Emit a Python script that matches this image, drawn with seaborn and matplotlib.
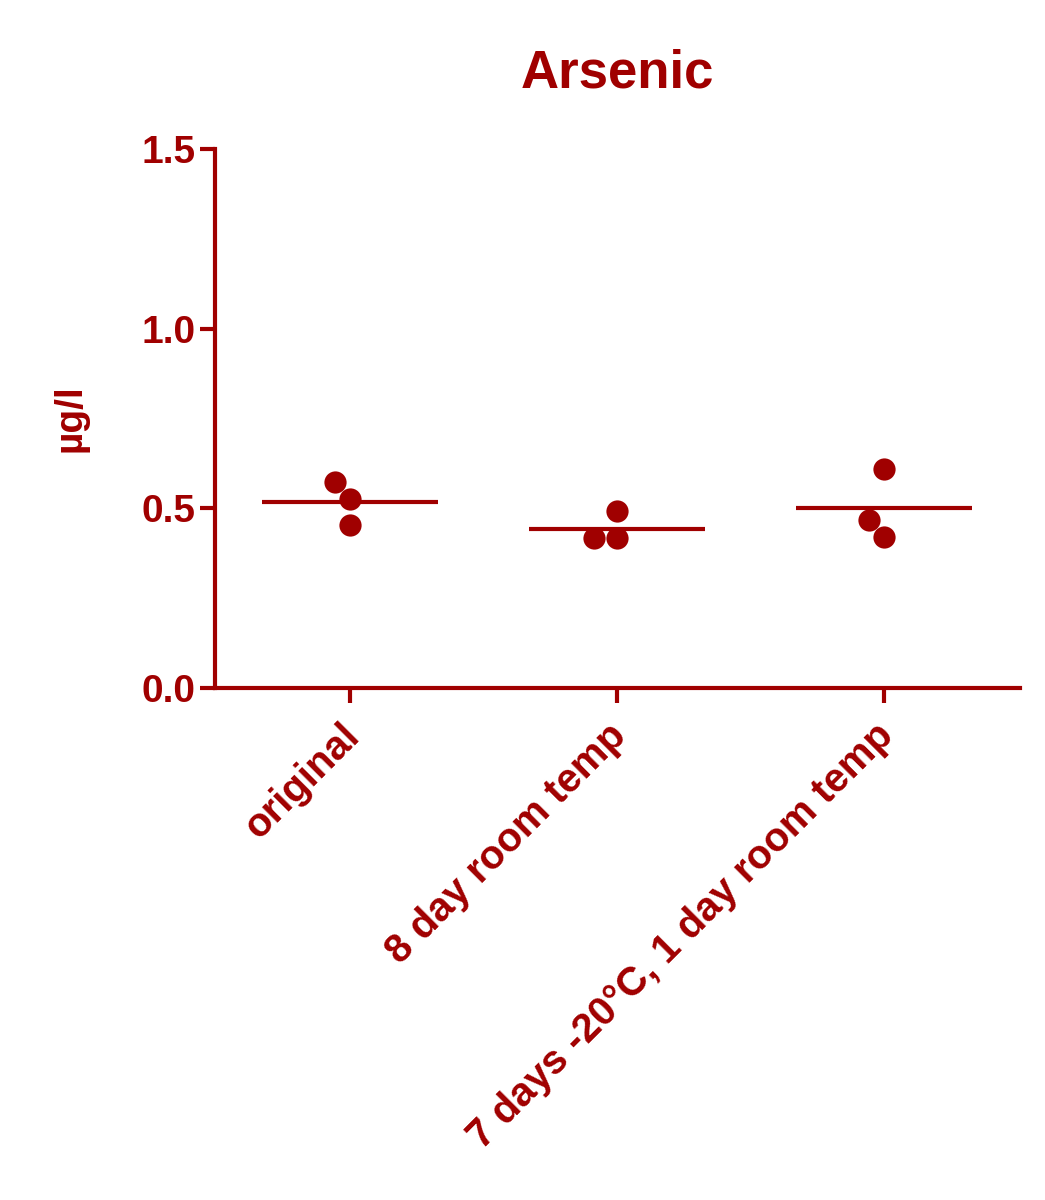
import pandas as pd
import numpy as np
import matplotlib.pyplot as plt
import matplotlib.transforms as mtransforms
import seaborn as sns

# values
groups = ["original", "8 day room temp", "7 days -20°C, 1 day room temp"]
original = [0.573, 0.526, 0.454]
room8 = [0.493, 0.417, 0.417]
frozen7 = [0.610, 0.468, 0.420]

red = "#A00000"

df = pd.DataFrame({
    "group": np.repeat(groups, 3),
    "value": original + room8 + frozen7,
})

sns.set_style("ticks")
plt.rcParams["font.family"] = ["Liberation Sans", "DejaVu Sans"]
plt.rcParams["font.weight"] = "bold"

fig = plt.figure(figsize=(10.45, 12), dpi=100)
ax = fig.add_axes([0.206, 0.4267, 0.77, 0.4493])

sns.swarmplot(data=df, x="group", y="value", order=groups, color=red, size=16, ax=ax)

# mean lines
means = df.groupby("group", sort=False)["value"].mean().reindex(groups)
for i, m in enumerate(means):
    ax.hlines(m, i - 0.33, i + 0.33, color=red, lw=3)

ax.set_xlim(-0.506, 2.51)
ax.set_ylim(0, 1.5)
ax.set_yticks([0, 0.5, 1.0, 1.5])
ax.set_yticklabels(["0.0", "0.5", "1.0", "1.5"])
ax.set_title("Arsenic", fontsize=38, fontweight="bold", color=red, pad=44)
ax.set_ylabel("µg/l", fontsize=28, fontweight="bold", color=red, labelpad=38)
ax.set_xlabel("")

for s in ["top", "right"]:
    ax.spines[s].set_visible(False)
for s in ["left", "bottom"]:
    ax.spines[s].set_color(red)
    ax.spines[s].set_linewidth(3)

ax.tick_params(axis="both", colors=red, width=3, length=11)
ax.tick_params(axis="y", labelsize=28)
ax.tick_params(axis="x", labelsize=29, pad=8)
offset = mtransforms.ScaledTranslation(-10 / 100, -2 / 100, fig.dpi_scale_trans)
for lab in ax.get_xticklabels():
    lab.set_rotation(45)
    lab.set_ha("right")
    lab.set_rotation_mode("anchor")
    lab.set_fontweight("bold")
    lab.set_transform(lab.get_transform() + offset)
plt.setp(ax.get_yticklabels(), fontweight="bold")

fig.savefig("out.png", dpi=100)
